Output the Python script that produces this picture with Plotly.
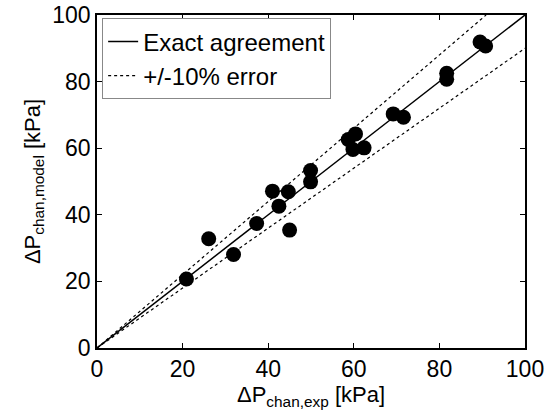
import plotly.graph_objects as go

# data
dp_exp = [20.9, 26.1, 31.9, 37.3, 41.0, 42.5, 44.7, 45.0, 49.9, 49.9,
          58.7, 60.4, 59.8, 62.4, 69.2, 71.6, 81.7, 81.7, 89.5, 90.8]
dp_model = [20.7, 32.8, 28.1, 37.4, 47.1, 42.6, 46.9, 35.4, 53.3, 49.9,
            62.6, 64.3, 59.6, 60.1, 70.3, 69.3, 82.5, 80.7, 91.9, 90.7]
line_x = [0, 100]
exact_y = [0, 100]
upper_x = [0, 100 / 1.1]
upper_y = [0, 100]
lower_y = [0, 90]
ticks = [0, 20, 40, 60, 80, 100]

font = dict(family="Liberation Sans, Arial, sans-serif", size=23, color="black")
tfont = dict(family="Liberation Sans, Arial, sans-serif", size=22, color="black")
lfont = dict(family="Liberation Sans, Arial, sans-serif", size=24, color="black")

fig = go.Figure()
fig.add_trace(go.Scatter(x=line_x, y=exact_y, mode="lines",
                         line=dict(color="black", width=1.5),
                         name="Exact agreement"))
fig.add_trace(go.Scatter(x=upper_x, y=upper_y, mode="lines",
                         line=dict(color="black", width=1.2, dash="dot"),
                         name="+/-10% error"))
fig.add_trace(go.Scatter(x=line_x, y=lower_y, mode="lines",
                         line=dict(color="black", width=1.2, dash="dot"),
                         showlegend=False))
fig.add_trace(go.Scatter(x=dp_exp, y=dp_model, mode="markers",
                         marker=dict(color="black", size=15),
                         showlegend=False))

axis_common = dict(range=[0, 100], tickvals=ticks, ticks="inside", ticklen=5,
                   tickcolor="black", showline=True, linecolor="black",
                   linewidth=1.5, mirror="ticks", showgrid=False,
                   zeroline=False, tickfont=font, automargin=False)

fig.update_layout(
    width=548, height=415,
    margin=dict(l=97, r=23, t=15, b=67),
    paper_bgcolor="white", plot_bgcolor="white",
    font=font,
    xaxis=dict(**axis_common,
               title=dict(text="ΔP<sub>chan,exp</sub> [kPa]", font=tfont, standoff=2)),
    yaxis=dict(**axis_common,
               title=dict(text="ΔP<sub>chan,model</sub> [kPa]", font=tfont, standoff=6)),
    legend=dict(x=0.012, y=0.99, xanchor="left", yanchor="top",
                bordercolor="#888", borderwidth=1, bgcolor="white",
                font=lfont, tracegroupgap=0, itemwidth=30),
)

fig.write_html("out.html")
